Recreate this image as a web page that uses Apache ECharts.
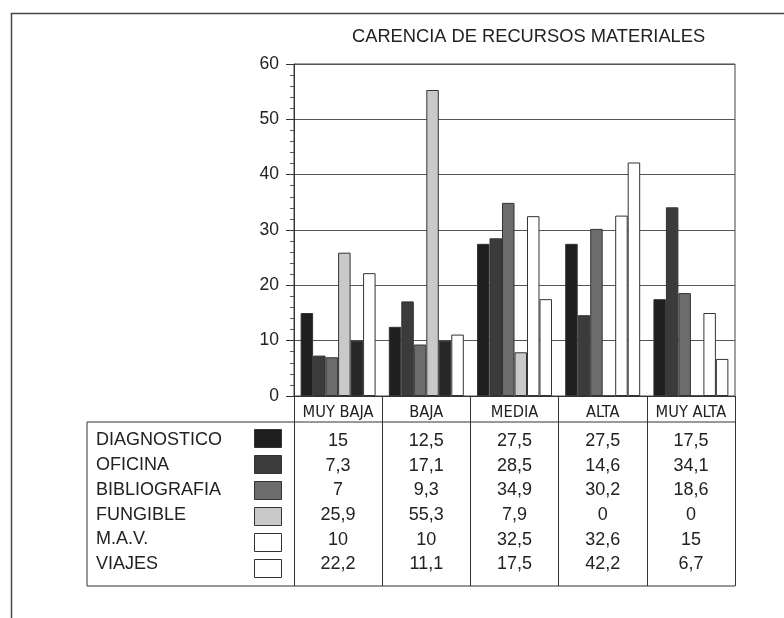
<!DOCTYPE html>
<html>
<head>
<meta charset="utf-8">
<script src="https://cdn.jsdelivr.net/npm/echarts@6/dist/echarts.min.js"></script>
<style>
  html, body { margin: 0; padding: 0; background: #fff; }
  #chart { width: 784px; height: 618px; }
</style>
</head>
<body>
<div id="chart"></div>
<script>
// Categories and values
const categories = ['MUY BAJA', 'BAJA', 'MEDIA', 'ALTA', 'MUY ALTA'];
const seriesNames = ['DIAGNOSTICO', 'OFICINA', 'BIBLIOGRAFIA', 'FUNGIBLE', 'M.A.V.', 'VIAJES'];
const diagnostico = [15, 12.5, 27.5, 27.5, 17.5];
const oficina = [7.3, 17.1, 28.5, 14.6, 34.1];
const bibliografia = [7, 9.3, 34.9, 30.2, 18.6];
const fungible = [25.9, 55.3, 7.9, 0, 0];
const mav = [10, 10, 32.5, 32.6, 15];
const viajes = [22.2, 11.1, 17.5, 42.2, 6.7];
const yTicks = [0, 10, 20, 30, 40, 50, 60];

const seriesValues = [diagnostico, oficina, bibliografia, fungible, mav, viajes];

// Presentation
const FONT = "'Liberation Sans', Arial, sans-serif";
const NARROW = "'Liberation Sans Narrow', 'Arial Narrow', 'DejaVu Sans Condensed', 'Liberation Sans', sans-serif";
const INK = '#222';
const EDGE = '#333';
const fills = ['#1f1f1f', '#3b3b3b', '#6c6c6c', '#c9c9c9', '#ffffff', '#ffffff'];

const plot = { left: 294, top: 64, width: 441, height: 332 };
const tableLeft = 87;
const headerBottom = 422;
const tableBottom = 586;
const rowCenter0 = 441;
const rowPitch = 24.7;
const labelX = 96;
const swatchX = 254;
const swatchTop = 429;

const fmt = v => String(v).replace('.', ',');

const chart = echarts.init(document.getElementById('chart'), null, { renderer: 'canvas' });

// value rows of the table, one category axis per row
const rowAxes = seriesValues.map((vals, i) => ({
  type: 'category',
  gridIndex: 0,
  position: 'bottom',
  offset: 0,
  data: categories,
  axisLine: { show: false },
  axisTick: { show: false },
  splitLine: { show: false },
  axisLabel: {
    interval: 0,
    margin: rowCenter0 - (plot.top + plot.height) + i * rowPitch,
    verticalAlign: 'middle',
    fontFamily: FONT,
    fontSize: 18,
    color: INK,
    formatter: (val, idx) => fmt(vals[idx])
  }
}));

const series = seriesNames.map((name, i) => ({
  name,
  type: 'bar',
  xAxisIndex: 0,
  yAxisIndex: 0,
  barGap: '0%',
  barCategoryGap: '15%',
  itemStyle: { color: fills[i], borderColor: EDGE, borderWidth: 1 },
  emphasis: { disabled: true },
  data: seriesValues[i].slice()
}));
// M.A.V. bars in the two lowest groups are printed with a dark fill
series[4].data = mav.map((v, idx) => idx < 2 ? { value: v, itemStyle: { color: '#262626' } } : v);

// row labels of the table
const rowLabels = seriesNames.map((name, i) => ({
  type: 'text',
  left: labelX,
  top: rowCenter0 + i * rowPitch - 9.5,
  style: { text: name, fontFamily: FONT, fontSize: 18, fill: INK }
}));

const right = plot.left + plot.width;
const line = (x1, y1, x2, y2, w) => ({
  type: 'line', silent: true,
  shape: { x1, y1, x2, y2 },
  style: { stroke: '#333', lineWidth: w || 1 }
});

chart.setOption({
  animation: false,
  backgroundColor: '#fff',
  title: {
    text: 'CARENCIA DE RECURSOS MATERIALES',
    left: 352,
    top: 28,
    padding: 0,
    textStyle: { fontFamily: FONT, fontSize: 18.3, fontWeight: 'normal', color: INK }
  },
  legend: {
    orient: 'vertical',
    left: swatchX,
    top: swatchTop,
    padding: 0,
    itemWidth: 27,
    itemHeight: 18,
    itemGap: 7,
    icon: 'rect',
    selectedMode: false,
    formatter: () => '',
    data: seriesNames,
    itemStyle: { borderColor: EDGE, borderWidth: 1 }
  },
  grid: {
    left: plot.left, top: plot.top, width: plot.width, height: plot.height,
    show: true, borderColor: '#444', borderWidth: 1, containLabel: false
  },
  xAxis: [{
    type: 'category',
    position: 'bottom',
    data: categories,
    axisLine: { show: true, lineStyle: { color: '#333', width: 1 } },
    axisTick: {
      show: true, interval: 0, alignWithLabel: false,
      length: tableBottom - (plot.top + plot.height),
      lineStyle: { color: '#333', width: 1 }
    },
    axisLabel: {
      interval: 0, margin: 17, verticalAlign: 'middle',
      fontFamily: NARROW, fontSize: 16.3, color: INK
    },
    splitLine: { show: false }
  }].concat(rowAxes),
  yAxis: {
    type: 'value',
    min: yTicks[0],
    max: yTicks[yTicks.length - 1],
    interval: 10,
    axisLine: { show: true, lineStyle: { color: '#333' } },
    axisTick: { show: true, length: 8, lineStyle: { color: '#333' } },
    minorTick: { show: true, splitNumber: 5, length: 4, lineStyle: { color: '#555' } },
    splitLine: { show: true, lineStyle: { color: '#555', width: 1 } },
    axisLabel: { margin: 15, fontFamily: FONT, fontSize: 17.5, color: INK }
  },
  graphic: [
    // outer frame
    { type: 'rect', left: 9, top: 11, shape: { width: 800, height: 700 },
      style: { fill: null, stroke: '#444', lineWidth: 1.5 }, silent: true },
    // table outline (right side comes from the last category divider)
    line(tableLeft, headerBottom, right, headerBottom),
    line(tableLeft, headerBottom, tableLeft, tableBottom),
    line(tableLeft, tableBottom, right, tableBottom)
  ].concat(rowLabels),
  series
});
</script>
</body>
</html>
